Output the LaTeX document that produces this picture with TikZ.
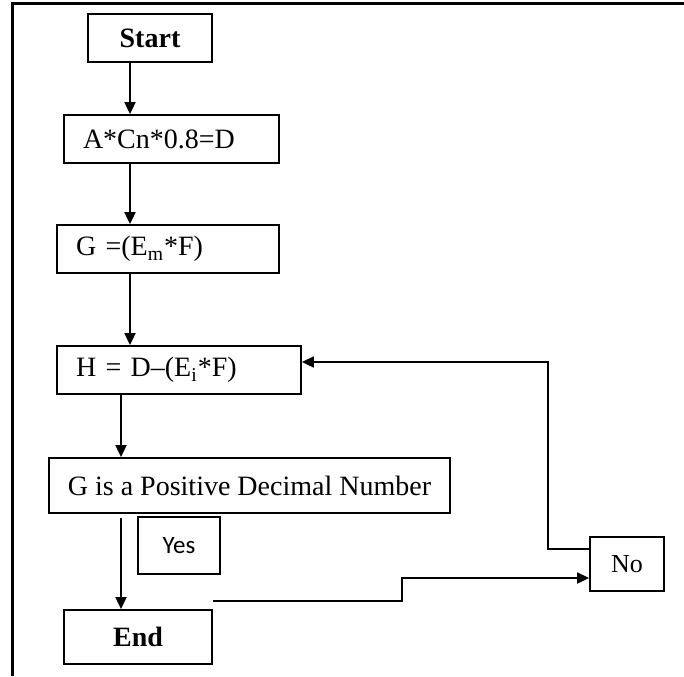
\documentclass[tikz,border=0pt]{standalone}
\usepackage{fontspec}
\setmainfont{Liberation Serif}
\newfontfamily\yesfont{Carlito}
\usetikzlibrary{arrows.meta}
\tikzset{
  box/.style={draw, line width=0.9pt, minimum height=24pt, inner sep=0pt, font=\fontsize{14}{16}\selectfont},
  lbox/.style={box, align=left, inner xsep=9.5pt, text width=#1},
  arr/.style={line width=0.9pt, -{Triangle[length=6pt,width=5.5pt]}},
}

\begin{document}
\begin{tikzpicture}[x=0.5pt,y=-0.5pt]
        \useasboundingbox (0,0) rectangle (684,676);
        %\draw[help lines] (0,0) grid (684,676);
        \draw[line width=1.5pt] (684,3) -- (12,3) -- (12,676);

        \node[box, minimum width=62pt, font=\bfseries\fontsize{14}{16}\selectfont] (start) at (150,38) {Start};
        \node[lbox=88.5pt] (calc) at (171.5,139) {A*Cn*0.8=D};
        \node[lbox=92pt] (gnode) at (168,249) {G =(E\textsubscript{m}*F)};
        \node[lbox=103pt] (hnode) at (179,370) {H = D--(E\textsubscript{i}*F)};
        \node[box, minimum width=200.5pt, minimum height=27.5pt] (test) at (249.5,485.5) {G is a Positive Decimal Number};
        \node[box, minimum width=41pt, minimum height=28.5pt, font=\yesfont\fontsize{12.5}{14}\selectfont] (yes) at (179,545.5) {Yes};
        \node[box, minimum width=74pt, minimum height=27pt, font=\bfseries\fontsize{14}{16}\selectfont] (endn) at (138,637) {End};
        \node[box, minimum width=37pt, minimum height=27pt, font=\fontsize{13}{15}\selectfont] (no) at (627,564) {No};

        \coordinate (spinea) at (130,0);
        \coordinate (spineb) at (121,0);
        \coordinate (ystep) at (402,578);
        \coordinate (yloop) at (548,362);

        \draw[arr] (start.south -| spinea) -- (calc.north -| spinea);
        \draw[arr] (calc.south -| spinea) -- (gnode.north -| spinea);
        \draw[arr] (gnode.south -| spinea) -- (hnode.north -| spinea);
        \draw[arr] (hnode.south -| spineb) -- (test.north -| spineb);
        \draw[arr] ([yshift=-2pt]test.south -| spineb) -- (endn.north -| spineb);

        \draw[arr] ([yshift=4pt]endn.north east) -| (ystep) -- (ystep -| no.west);
        \draw[arr] (no.west |- 0,549) -| (yloop) -- (yloop -| hnode.east);
\end{tikzpicture}
\end{document}
